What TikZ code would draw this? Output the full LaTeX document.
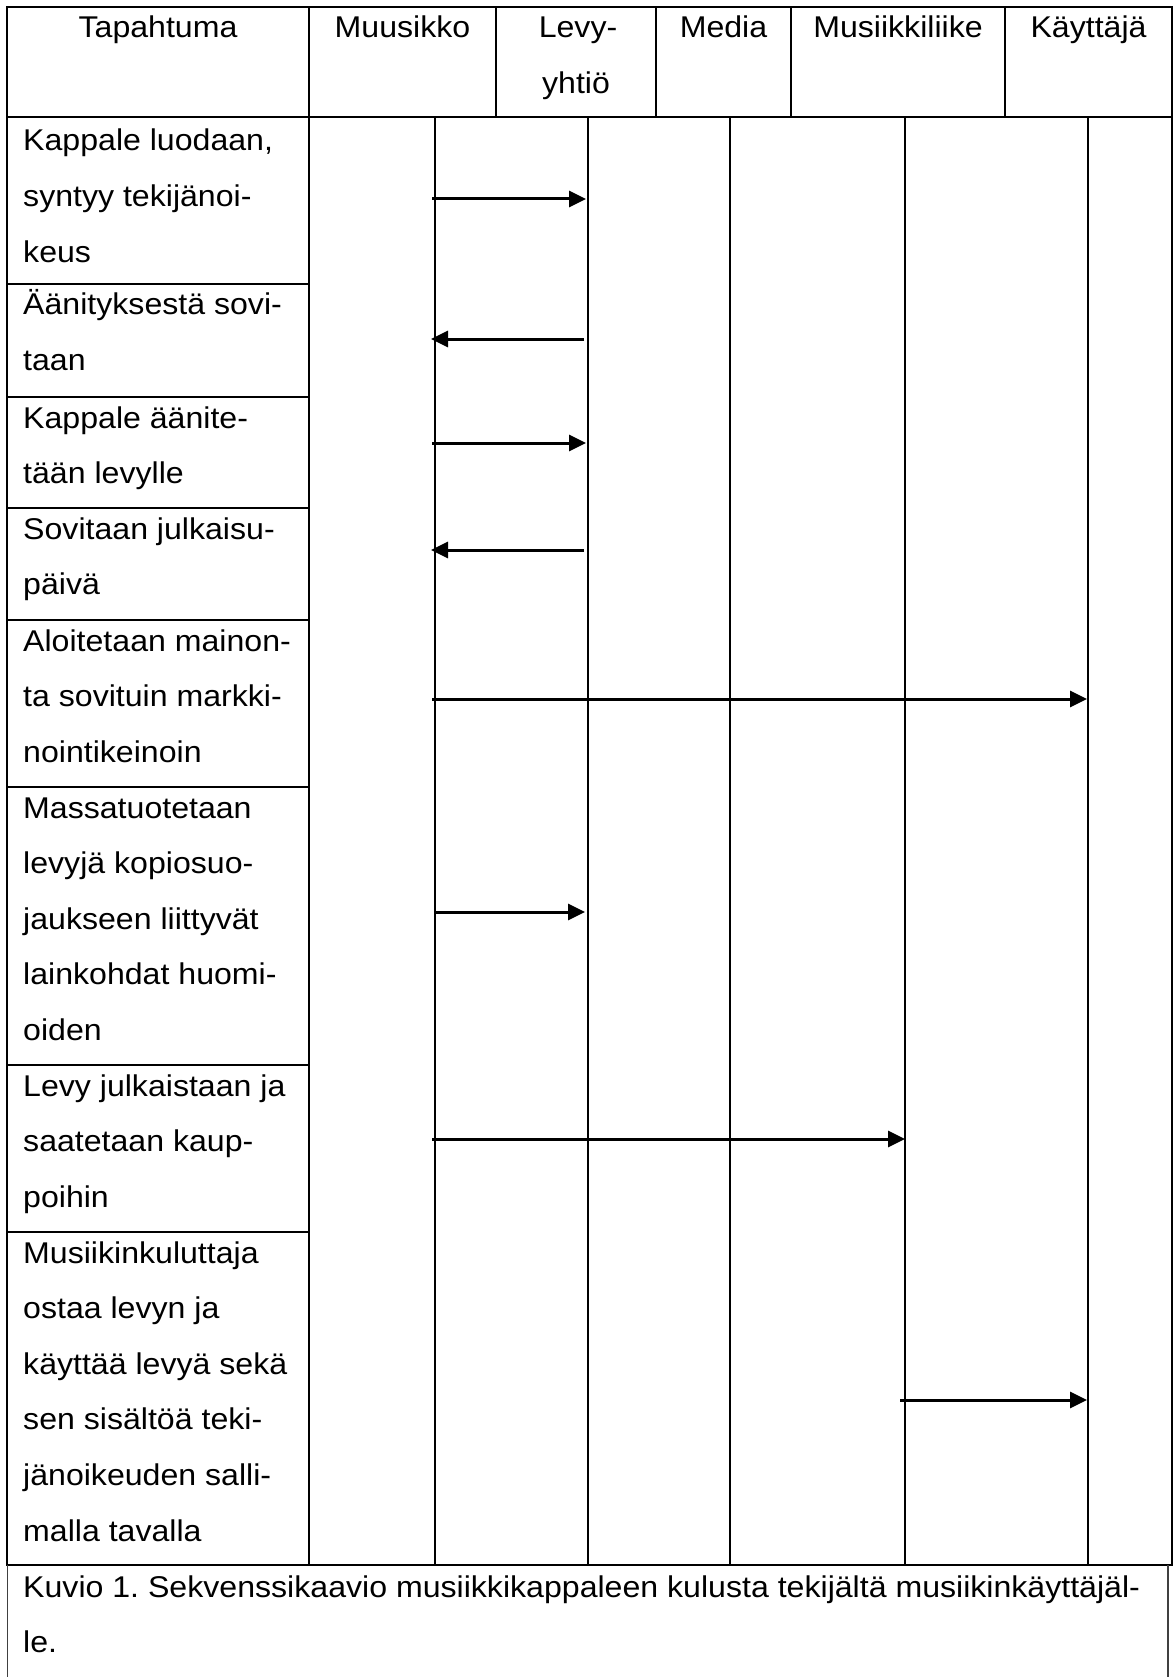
\documentclass[tikz,border=0pt]{standalone}
\usepackage{fontspec}
\setmainfont{Liberation Sans}[FakeStretch=1.07]
\usetikzlibrary{arrows.meta}
\frenchspacing
\newcommand{\celllines}[3]{%
  \foreach \ln [count=\k from 0] in {#3} {%
    \node[txt] (#1-\k) at (23,{#2+\k*55.65}) {\ln};}}
\begin{document}
\begin{tikzpicture}[x=1pt,y=-1pt,
  gridline/.style={line width=2.3pt, black},
  capline/.style={line width=1.2pt, black!75},
  msg/.style={line width=3pt, -{Triangle[length=17pt,width=16pt]}},
  txt/.style={anchor=base west, inner sep=0pt, font=\fontsize{30}{32}\selectfont\frenchspacing},
  hdr/.style={anchor=base, inner sep=0pt, font=\fontsize{30}{32}\selectfont}]
\useasboundingbox (0,0) rectangle (1174,1677);
\fill[white] (0,0) rectangle (1174,1677);

% table frame and lines
\draw[gridline] (7,7) rectangle (1172,1565);
\draw[gridline] (7,117) -- (1172,117);
\foreach \x in {309,496,656,791,1005} \draw[gridline] (\x,7) -- (\x,117);
\foreach \x in {309,435,588,730,905,1088} \draw[gridline] (\x,117) -- (\x,1565);
\foreach \y in {284,397,508,620,787,1065,1232} \draw[gridline] (7,\y) -- (309,\y);

% caption box
\draw[capline] (7.5,1565) -- (7.5,1677);
\draw[capline] (1168,1565) -- (1168,1677);

% header
\node[hdr] (h1) at (158,38) {Tapahtuma};
\node[hdr] (h2) at (402.5,38) {Muusikko};
\node[hdr] (h3a) at (578,38) {Levy-};
\node[hdr] (h3b) at (576,93.65) {yhtiö};
\node[hdr] (h4) at (723.5,38) {Media};
\node[hdr] (h5) at (898,38) {Musiikkiliike};
\node[hdr] (h6) at (1088.5,38) {Käyttäjä};

% event texts
\celllines{r1}{151}{{Kappale luodaan,},{syntyy tekijänoi-},{keus}}
\celllines{r2}{315}{{Äänityksestä sovi-},{taan}}
\celllines{r3}{428}{{Kappale äänite-},{tään levylle}}
\celllines{r4}{539}{{Sovitaan julkaisu-},{päivä}}
\celllines{r5}{651}{{Aloitetaan mainon-},{ta sovituin markki-},{nointikeinoin}}
\celllines{r6}{818}{{Massatuotetaan},{levyjä kopiosuo-},{jaukseen liittyvät},{lainkohdat huomi-},{oiden}}
\celllines{r7}{1096}{{Levy julkaistaan ja},{saatetaan kaup-},{poihin}}
\celllines{r8}{1263}{{Musiikinkuluttaja},{ostaa levyn ja},{käyttää levyä sekä},{sen sisältöä teki-},{jänoikeuden salli-},{malla tavalla}}
\celllines{cap}{1597}{{Kuvio 1. Sekvenssikaavio musiikkikappaleen kulusta tekijältä musiikinkäyttäjäl-},{le.}}

% message endpoints
\coordinate (m1a) at (432,199);   \coordinate (m1b) at (586,199);
\coordinate (m2a) at (584,339);   \coordinate (m2b) at (431,339);
\coordinate (m3a) at (432,443);   \coordinate (m3b) at (586,443);
\coordinate (m4a) at (584,550);   \coordinate (m4b) at (431,550);
\coordinate (m5a) at (432,699);   \coordinate (m5b) at (1087,699);
\coordinate (m6a) at (435,912);   \coordinate (m6b) at (585,912);
\coordinate (m7a) at (432,1139);  \coordinate (m7b) at (905,1139);
\coordinate (m8a) at (900,1400);  \coordinate (m8b) at (1087,1400);

\foreach \i in {1,...,8} \draw[msg] (m\i a) -- (m\i b);
\end{tikzpicture}
\end{document}
